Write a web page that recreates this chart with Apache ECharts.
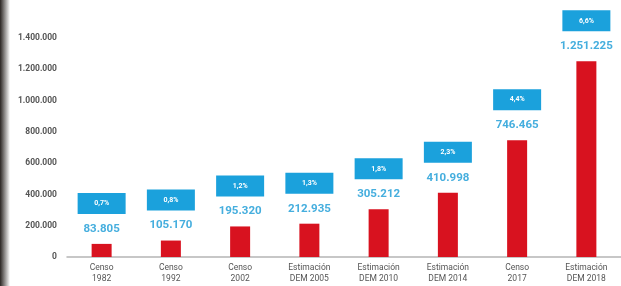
<!DOCTYPE html>
<html><head><meta charset="utf-8">
<script src="https://cdn.jsdelivr.net/npm/echarts@6/dist/echarts.min.js"></script>
<style>html,body{margin:0;padding:0;background:#fff}#c{width:621px;height:286px}</style>
</head><body><div id="c"></div>
<script>
const categories = ['Censo\n1982','Censo\n1992','Censo\n2002','Estimación\nDEM 2005','Estimación\nDEM 2010','Estimación\nDEM 2014','Censo\n2017','Estimación\nDEM 2018'];
const population = [83805, 105170, 195320, 212935, 305212, 410998, 746465, 1251225];
const growth = ['0,7%','0,8%','1,2%','1,3%','1,8%','2,3%','4,4%','6,6%'];
const yTicks = [0, 200000, 400000, 600000, 800000, 1000000, 1200000, 1400000];

function fmt(v){ return String(v).replace(/\B(?=(\d{3})+(?!\d))/g, '.'); }

const chart = echarts.init(document.getElementById('c'), null, {renderer:'canvas'});
chart.setOption({
  animation:false,
  backgroundColor:'#fff',
  grid:{left:67, right:-6, top:38, bottom:29},
  xAxis:{type:'category', data:categories,
    axisLine:{lineStyle:{color:'#b5b5b5', width:1.5}},
    axisTick:{show:false},
    axisLabel:{color:'#555', fontSize:8.5, fontFamily:'Roboto', lineHeight:11, margin:5, interval:0}},
  yAxis:{type:'value', min:yTicks[0], max:yTicks[yTicks.length-1], interval:200000,
    splitLine:{show:false}, axisLine:{show:false}, axisTick:{show:false},
    axisLabel:{color:'#555', fontSize:8.5, fontWeight:'bold', fontFamily:'Roboto', margin:10,
      formatter:v=>fmt(v)}},
  graphic:[{type:'rect', left:0, top:0, shape:{width:10, height:286}, silent:true,
    style:{fill:new echarts.graphic.LinearGradient(0,0,1,0,[{offset:0,color:'rgba(30,25,22,0.95)'},{offset:1,color:'rgba(30,25,22,0)'}])}}],
  series:[{type:'bar', data:population, barWidth:20,
    itemStyle:{color:'#d8121f'},
    label:{show:true, position:'top', distance:0,
      formatter:p=>'{box|'+growth[p.dataIndex]+'}\n{val|'+fmt(p.value)+'}',
      rich:{
        box:{backgroundColor:'#1ba1dc', color:'#fff', fontSize:7, fontWeight:'bold', fontFamily:'Roboto',
          width:48, height:21, align:'center', lineHeight:21},
        val:{color:'#45aede', fontSize:11.5, fontWeight:'bold', fontFamily:'Roboto', lineHeight:30, align:'center'}
      }}
  }]
});
</script></body></html>
